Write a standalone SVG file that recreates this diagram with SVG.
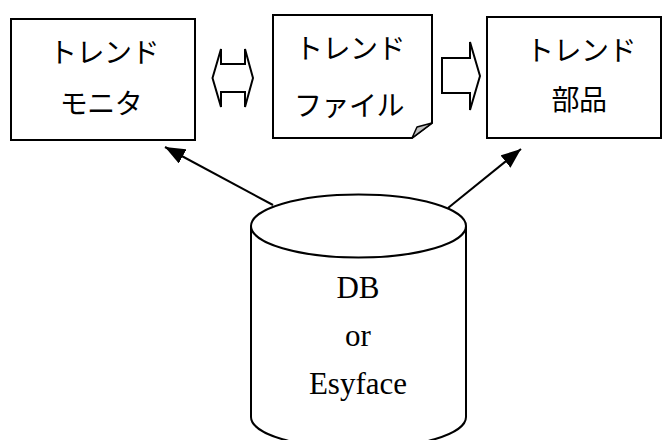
<svg xmlns="http://www.w3.org/2000/svg" width="664" height="440" viewBox="0 0 664 440">
<defs>
<style>
.box{fill:#fff;stroke:#000;stroke-width:2}
.jp{font-family:"Noto Sans CJK JP","Noto Sans CJK SC",sans-serif;font-size:28px;fill:#000;text-anchor:middle;letter-spacing:-0.5px}
.en{font-family:"Liberation Serif",serif;font-size:31px;fill:#000;text-anchor:middle}
.conn{stroke:#000;stroke-width:2;fill:none}
.blk{fill:#fff;stroke:#000;stroke-width:2;stroke-linejoin:miter}
</style>
<marker id="ah" markerUnits="userSpaceOnUse" markerWidth="20" markerHeight="16" refX="20" refY="8" orient="auto">
<path d="M0,0 L20,8 L0,16 Z" fill="#000"/>
</marker>
</defs>
<g id="connectors">
<line class="conn" x1="273" y1="205" x2="165" y2="147" marker-end="url(#ah)"/>
<line class="conn" x1="448" y1="208" x2="521" y2="149" marker-end="url(#ah)"/>
<path class="blk" d="M212.5,78 L221,49 L221,64 L245,64 L245,49 L253,78 L245,107 L245,92 L221,92 L221,107 Z"/>
<path class="blk" d="M442,58 L470,58 L470,42 L480,76 L470,110 L470,93 L442,93 Z"/>
</g>
<g id="trend-monitor">
<rect class="box" x="11" y="19" width="184" height="121"/>
<text class="jp" x="104" y="63">トレンド</text>
<text class="jp" x="101" y="114">モニタ</text>
</g>
<g id="trend-file">
<path class="box" d="M273,15 L432,15 L432,123 L412,138 L273,138 Z"/>
<path d="M412,138 L417,127 L432,123 Z" fill="#c0c0c0" stroke="#000" stroke-width="1.5" stroke-linejoin="round"/>
<text class="jp" x="350" y="59">トレンド</text>
<text class="jp" x="349" y="116">ファイル</text>
</g>
<g id="trend-parts">
<rect class="box" x="487" y="17" width="174" height="121"/>
<text class="jp" x="581" y="61">トレンド</text>
<text class="jp" x="579" y="110">部品</text>
</g>
<g id="db">
<path class="box" d="M251,226 A107.5,31.5 0 0 1 466,226 L466,417 A107.5,31.5 0 0 1 251,417 Z"/>
<path class="conn" d="M251,226 A107.5,31.5 0 0 0 466,226"/>
<text class="en" x="358" y="298">DB</text>
<text class="en" x="358" y="346">or</text>
<text class="en" x="358" y="394">Esyface</text>
</g>
</svg>
